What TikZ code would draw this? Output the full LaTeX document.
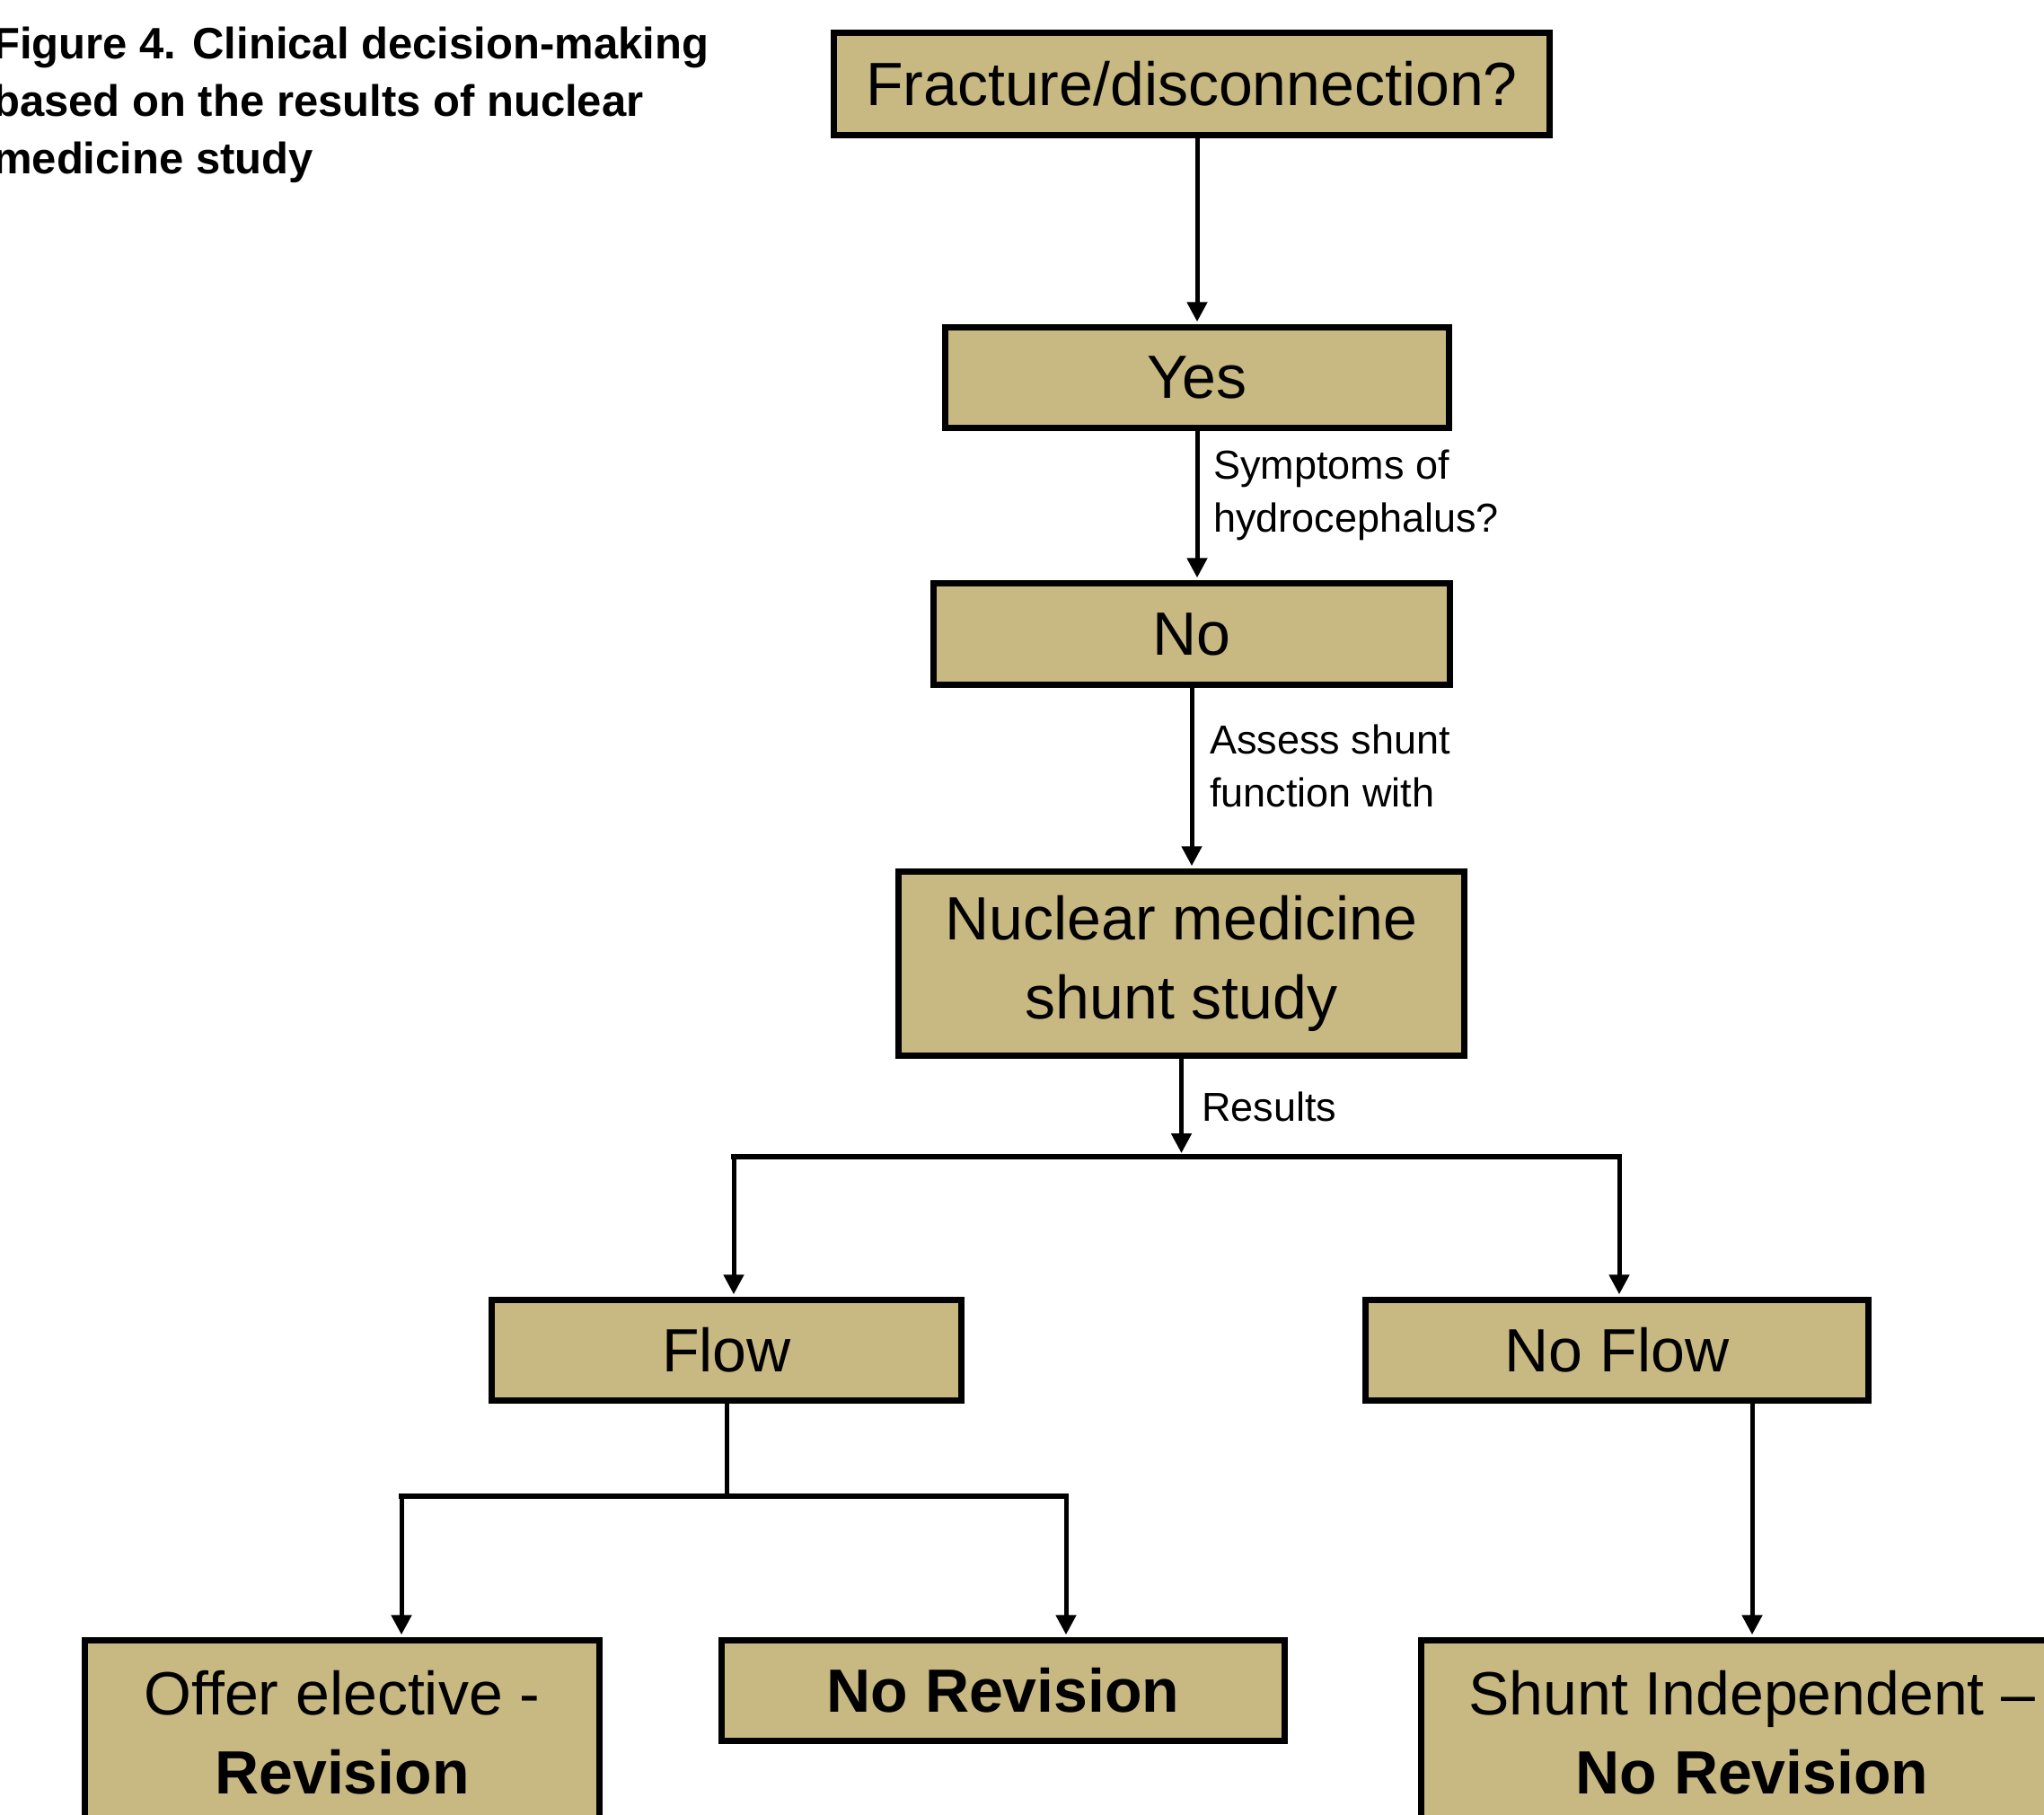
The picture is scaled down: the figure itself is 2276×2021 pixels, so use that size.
\documentclass[tikz,border=0pt]{standalone}
\usepackage{fontspec}
\setmainfont{Liberation Sans}
\usetikzlibrary{arrows.meta}
\definecolor{boxtan}{RGB}{200,184,130}
\begin{document}
\begin{tikzpicture}[x=1pt,y=-1pt,
  box/.style={draw=black, line width=6.5pt, fill=boxtan, inner sep=0pt, align=center, font=\fontsize{68}{88}\selectfont},
  conn/.style={line width=5pt, draw=black},
  hbar/.style={line width=6.5pt, draw=black, line cap=rect},
  arr/.style={conn, shorten >=3pt, -{Triangle[length=22pt,width=22pt]}},
  lbl/.style={inner sep=0pt, anchor=north west, align=left, font=\fontsize{45}{59}\selectfont}]
\useasboundingbox (0,0) rectangle (2276,2021);
\clip (0,0) rectangle (2276,2021);
\fill[white] (0,0) rectangle (2276,2021);

\node[anchor=north west, inner sep=0pt, align=left, font=\fontsize{49}{64}\selectfont\bfseries] (title) at (-8,30)
  {Figure 4. Clinical decision-making\\based on the results of nuclear\\medicine study};

\node[box, minimum width=797pt, minimum height=114pt] (frac) at (1327,93.5) {Fracture/disconnection?};
\node[box, minimum width=561pt, minimum height=112pt] (yes) at (1333,420.5) {Yes};
\node[box, minimum width=575pt, minimum height=113pt] (no) at (1327,706) {No};
\node[box, minimum width=630pt, minimum height=205pt] (nuc) at (1315.5,1073) {Nuclear medicine\\shunt study};
\node[box, minimum width=523pt, minimum height=112pt] (flow) at (809,1503.5) {Flow};
\node[box, minimum width=560pt, minimum height=112pt] (noflow) at (1800.5,1503.5) {No Flow};
\node[box, minimum width=573pt, minimum height=205pt] (offer) at (381,1929) {Offer elective -\\\textbf{Revision}};
\node[box, minimum width=627pt, minimum height=112pt] (norev) at (1117,1882.5) {\textbf{No Revision}};
\node[box, minimum width=737pt, minimum height=205pt] (shunt) at (1951,1929) {Shunt Independent –\\\textbf{No Revision}};

\coordinate (b1) at (1315.5,1284);
\coordinate (bl) at (817,1288);
\coordinate (br) at (1803,1288);
\coordinate (f1) at (809,1666);
\coordinate (fl) at (447,1666);
\coordinate (fr) at (1187,1666);

\draw[arr] (yes.north |- frac.south) -- (yes.north);
\draw[arr] (yes.south) -- (yes.south |- no.north);
\draw[arr] (no.south) -- (no.south |- nuc.north);
\draw[arr, shorten >=0pt] (nuc.south) -- (b1);
\draw[hbar] (bl) -- (br);
\draw[arr] (bl) -- (bl |- flow.north);
\draw[arr] (br) -- (br |- noflow.north);
\draw[conn] (flow.south) -- (f1);
\draw[hbar] (fl) -- (fr);
\draw[arr] (fl) -- (fl |- offer.north);
\draw[arr] (fr) -- (fr |- norev.north);
\draw[arr] (shunt.north |- noflow.south) -- (shunt.north);

\node[lbl] (l1) at (1351,501) {Symptoms of\\hydrocephalus?};
\node[lbl] (l2) at (1347,807) {Assess shunt\\function with};
\node[lbl, anchor=west] (l3) at (1338,1232) {Results};
\end{tikzpicture}
\end{document}
